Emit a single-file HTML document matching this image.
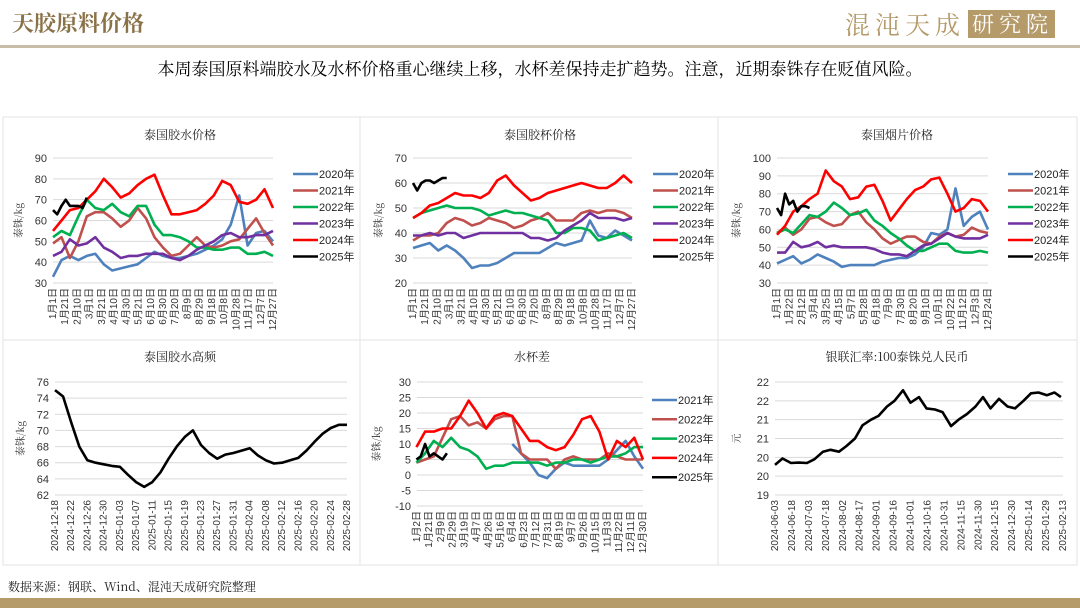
<!DOCTYPE html>
<html><head><meta charset="utf-8">
<style>
body{margin:0;background:#fff;}
svg{display:block;font-family:"Liberation Sans","Noto Sans CJK SC",sans-serif;}
.cjk{font-family:"Noto Serif CJK SC","Noto Sans CJK SC",serif;}
.sans{font-family:"Liberation Sans","Noto Sans CJK SC",sans-serif;}
</style></head>
<body>
<svg id="s" width="1080" height="608" viewBox="0 0 1080 608" xmlns="http://www.w3.org/2000/svg">
<rect width="1080" height="608" fill="#fff"/>
<text x="12" y="31" font-size="22" fill="#8a7248" class="cjk" font-weight="bold">天胶原料价格</text>
<g>
<text x="845" y="34" font-size="25" fill="#b59a6a" class="cjk" letter-spacing="5">混沌天成</text>
<rect x="968" y="10" width="87" height="28" fill="#b59a6a"/>
<text x="972" y="32" font-size="22" fill="#fff" class="cjk" letter-spacing="5">研究院</text>
</g>
<rect x="0" y="45" width="1080" height="3" fill="#c9bda8"/>
<text x="540" y="75" font-size="17" text-anchor="middle" fill="#000" class="cjk">本周泰国原料端胶水及水杯价格重心继续上移，水杯差保持走扩趋势。注意，近期泰铢存在贬值风险。</text>
<rect x="3" y="117" width="1074" height="448" fill="none" stroke="#e3e3e3"/>
<line x1="360" y1="117" x2="360" y2="565" stroke="#e3e3e3"/>
<line x1="718" y1="117" x2="718" y2="565" stroke="#e3e3e3"/>
<line x1="3" y1="340" x2="1077" y2="340" stroke="#e3e3e3"/>
<text x="8" y="591" font-size="12" fill="#222" class="cjk">数据来源：钢联、Wind、混沌天成研究院整理</text>
<rect x="0" y="598" width="1080" height="10" fill="#b59a6a"/>
<g id="charts"></g>
</svg>
<script>
// ---------- data ----------
const seasonNames=["2020年","2021年","2022年","2023年","2024年","2025年"];
const ticks1=["1月1日","1月21日","2月10日","3月1日","3月21日","4月10日","4月30日","5月21日","6月10日","6月30日","7月20日","8月9日","8月29日","9月18日","10月8日","10月28日","11月17日","12月7日","12月27日"];
const ticks3=["1月1日","1月22日","2月12日","3月4日","3月25日","4月15日","5月7日","5月28日","6月18日","7月9日","7月30日","8月20日","9月10日","10月1日","10月22日","11月12日","12月3日","12月24日"];
const ticks5=["1月2日","1月21日","2月9日","2月29日","3月19日","4月7日","4月26日","5月16日","6月4日","6月23日","7月12日","7月31日","8月19日","9月7日","9月26日","10月15日","11月3日","11月22日","12月11日","12月30日"];
const latex2020=[33,41,43,41,43,44,39,36,37,38,39,42,45,43,42,42,43,44,46,48,51,58,72,48,54,55,50];
const latex2021=[49,52,42,50,62,64,64,61,57,60,66,61,52,47,43,44,48,52,48,47,48,50,51,56,61,54,48];
const latex2022=[52,55,53,62,70,66,65,68,64,62,67,67,58,53,53,52,50,47,47,46,46,47,47,44,44,45,43];
const latex2023=[43,45,51,48,49,52,47,45,42,43,43,44,44,44,42,41,43,46,48,50,53,54,52,52,53,53,55];
const latex2024=[55,60,65,66,70,74,80,76,71,73,77,80,82,72,63,63,64,65,68,72,79,77,69,68,70,75,66];
const latex2025=[65,63,67,70,67,67,67,66,71];
const cup2020=[34,35,36,33,35,33,30,26,27,27,28,30,32,32,32,32,34,36,35,36,37,45,39,38,41,39,37];
const cup2021=[37,39,39,40,44,46,45,43,44,46,45,44,42,43,45,46,48,45,45,45,48,49,48,49,49,48,46];
const cup2022=[46,48,49,50,51,50,50,50,49,47,48,49,48,48,47,46,45,40,40,42,42,41,37,38,39,40,38];
const cup2023=[39,39,40,39,40,40,38,39,40,40,40,40,40,40,38,38,37,38,41,43,45,48,46,46,46,45,46];
const cup2024=[46,48,51,52,54,56,55,55,54,56,61,63,59,56,53,54,56,57,58,59,60,59,58,58,60,63,60];
const cup2025=[60,57,60,61,61,60,61,62,62];
const rss2020=[41,43,45,41,43,46,44,42,39,40,40,40,40,42,43,44,44,46,50,58,57,60,83,62,67,70,60];
const rss2021=[58,61,57,60,66,67,64,62,63,68,70,64,60,55,52,54,56,56,53,52,56,58,56,57,61,59,58];
const rss2022=[58,60,58,63,68,67,70,75,72,68,69,71,65,62,58,55,51,48,48,50,52,52,48,47,47,48,47];
const rss2023=[47,47,53,50,51,53,50,51,50,50,50,50,49,47,46,46,45,48,51,52,55,58,56,55,55,55,57];
const rss2024=[57,62,70,73,77,80,93,87,84,77,78,84,85,76,65,71,77,82,84,88,89,80,70,72,77,76,70];
const rss2025=[72,68,80,74,76,70,73,73,72];
const hfTicks=["2024-12-18","2024-12-22","2024-12-26","2024-12-30","2025-01-03","2025-01-07","2025-01-11","2025-01-15","2025-01-19","2025-01-23","2025-01-27","2025-01-31","2025-02-04","2025-02-08","2025-02-12","2025-02-16","2025-02-20","2025-02-24","2025-02-28"];
const hfValues=[75,74.2,71,68,66.3,66,65.8,65.6,65.5,64.5,63.6,63,63.6,64.8,66.5,68,69.2,70,68.2,67.2,66.5,67,67.2,67.5,67.8,66.9,66.3,65.9,66,66.3,66.6,67.5,68.6,69.6,70.3,70.7,70.7];
const spreadNames=["2021年","2022年","2023年","2024年","2025年"];
const spread2021=[10,7,4,0,-1,2,4,3,3,3,3,5,8,11,6,2];
const spread2022=[4,5,6,12,18,19,16,17,15,18,19,19,7,5,5,5,2,5,6,5,5,5,7,6,5,5,5];
const spread2023=[4,7,11,9,12,9,8,6,2,3,3,4,4,4,4,3,4,4,5,5,4,5,6,6,7,9,9];
const spread2024=[9,14,14,15,15,19,24,20,15,19,20,19,15,11,11,9,8,9,13,18,19,14,5,11,9,12,5];
const spread2025=[5,6,10,6,7,6,5,7];
const fxTicks=["2024-06-03","2024-06-18","2024-07-03","2024-07-18","2024-08-02","2024-08-17","2024-09-01","2024-09-16","2024-10-01","2024-10-16","2024-10-31","2024-11-15","2024-11-30","2024-12-15","2024-12-30","2025-01-14","2025-01-29","2025-02-13"];
const fxDays=[0,7,15,22,30,37,45,52,60,67,75,82,90,97,105,112,120,127,135,142,150,157,165,172,180,188,195,202,210,218,225,233,240,247,255,262,268];
const fxValues=[19.8,19.97,19.85,19.86,19.85,19.95,20.15,20.2,20.15,20.3,20.5,20.85,21.0,21.1,21.35,21.5,21.78,21.45,21.6,21.3,21.27,21.2,20.83,21.0,21.15,21.35,21.6,21.3,21.55,21.35,21.3,21.5,21.7,21.72,21.65,21.72,21.6];

const COLORS=["#4f81bd","#c0504d","#00b050","#7030a0","#ff0000","#000000"];
const NS="http://www.w3.org/2000/svg";
const root=document.getElementById('charts');
function el(tag,attrs,parent,txt){const e=document.createElementNS(NS,tag);for(const k in attrs)e.setAttribute(k,attrs[k]);if(txt!==undefined)e.textContent=txt;(parent||root).appendChild(e);return e;}

function frame(cfg){
  const g=el('g',{});
  
  
  const t=el('text',{x:cfg.cx,y:cfg.ty,'font-size':12,'text-anchor':'middle',fill:'#222',class:'cjk'},g,cfg.title);
  
  
  const y=v=>cfg.y1-(v-cfg.vmin)/(cfg.vmax-cfg.vmin)*(cfg.y1-cfg.y0);
  for(let v=cfg.vmin;v<=cfg.vmax+1e-9;v+=cfg.vstep){
    const gl=el('line',{x1:cfg.x0,x2:cfg.x1,y1:y(v),y2:y(v),stroke:'#d9d9d9','stroke-width':1},g);
    
    
    const lb=el('text',{x:cfg.x0-6,y:y(v)+4,'font-size':11,'text-anchor':'end',fill:'#333'},g,cfg.fmt?cfg.fmt(v):v);
    
    
  }
  const yt=el('text',{x:cfg.ylx,y:(cfg.y0+cfg.y1)/2,'font-size':10,'text-anchor':'middle',fill:'#333',class:'cjk',transform:`rotate(-90 ${cfg.ylx} ${(cfg.y0+cfg.y1)/2})`},g,cfg.ylabel);
  
  
  const n=cfg.ticks.length;
  cfg.ticks.forEach((tk,i)=>{
    const x=cfg.x0+(cfg.x1-cfg.x0)*i/(n-1)+3;
    const tl=el('text',{x:x,y:cfg.y1+5,'font-size':cfg.tfs||10,'text-anchor':'end',fill:'#333',class:'sans',transform:`rotate(-90 ${x} ${cfg.y1+5})`},g,tk);
    
    
  });
  return {g,y};
}
function line(g,pts,color,name){
  const p=el('polyline',{points:pts.map(p=>p[0].toFixed(1)+','+p[1].toFixed(1)).join(' '),fill:'none',stroke:color,'stroke-width':2.6,'stroke-linejoin':'round'},g);
  
  
}
function legend(g,names,colors,lx,ly,step){
  names.forEach((nm,i)=>{
    const yy=ly+i*step;
    const lg=el('g',{},g);
    
    
    el('line',{x1:lx,x2:lx+25,y1:yy,y2:yy,stroke:colors[i],'stroke-width':2.5},lg);
    el('text',{x:lx+26,y:yy+4,'font-size':11,fill:'#222',class:'sans'},lg,nm);
  });
}
function seasonal(cfg,series,steps,starts){
  const {g,y}=frame(cfg);
  const x=d=>cfg.x0+(d-cfg.d0)/(cfg.d1-cfg.d0)*(cfg.x1-cfg.x0);
  series.forEach((vals,i)=>{
    line(g,vals.map((v,j)=>[x(starts[i]+j*steps[i]),y(v)]),cfg.colors[i],'series-'+cfg.names[i]);
  });
  legend(g,cfg.names,cfg.colors,cfg.lx,cfg.ly,cfg.lstep);
}
const S=[14,14,14,14,14,7], Z=[0,0,0,0,0,0];
seasonal({id:'latex-price-chart',title:'泰国胶水价格',cx:180,ty:139,x0:53,x1:273,y0:158,y1:283,vmin:30,vmax:90,vstep:10,ylabel:'泰铢/kg',ylx:22,ticks:ticks1,d0:0,d1:364,names:seasonNames,colors:COLORS,lx:293,ly:174,lstep:16.5},
  [latex2020,latex2021,latex2022,latex2023,latex2024,latex2025],S,Z);
seasonal({id:'cup-lump-price-chart',title:'泰国胶杯价格',cx:540,ty:139,x0:413,x1:632,y0:158,y1:283,vmin:20,vmax:70,vstep:10,ylabel:'泰铢/kg',ylx:382,ticks:ticks1,d0:0,d1:364,names:seasonNames,colors:COLORS,lx:653,ly:174,lstep:16.5},
  [cup2020,cup2021,cup2022,cup2023,cup2024,cup2025],S,Z);
seasonal({id:'smoked-sheet-price-chart',title:'泰国烟片价格',cx:897,ty:139,x0:777,x1:988,y0:158,y1:283,vmin:30,vmax:100,vstep:10,ylabel:'泰铢/kg',ylx:740,ticks:ticks3,d0:0,d1:364,names:seasonNames,colors:COLORS,lx:1008,ly:174,lstep:16.5},
  [rss2020,rss2021,rss2022,rss2023,rss2024,rss2025],S,Z);
seasonal({id:'cup-latex-spread-chart',title:'水杯差',cx:532,ty:361,x0:417,x1:643,y0:382,y1:506,vmin:-10,vmax:30,vstep:5,ylabel:'泰铢/kg',ylx:380,ticks:ticks5,d0:1,d1:364,names:spreadNames,colors:["#4f81bd","#c0504d","#00b050","#ff0000","#000000"],lx:652,ly:400,lstep:19.3},
  [spread2021,spread2022,spread2023,spread2024,spread2025],[14,14,14,14,7],[154,0,0,0,0]);
(function(){
  const cfg={id:'latex-high-frequency-chart',title:'泰国胶水高频',cx:180,ty:361,x0:55,x1:347,y0:382,y1:495,vmin:62,vmax:76,vstep:2,ylabel:'泰铢/kg',ylx:24,ticks:hfTicks,tfs:10};
  const {g,y}=frame(cfg);
  const x=d=>cfg.x0+d/72*(cfg.x1-cfg.x0);
  line(g,hfValues.map((v,j)=>[x(j*2),y(v)]),'#000','series-latex-hf');
})();
(function(){
  const cfg={id:'fx-rate-chart',title:'银联汇率:100泰铢兑人民币',cx:897,ty:361,x0:775,x1:1063,y0:382,y1:495,vmin:19,vmax:22,vstep:0.5,ylabel:'元',ylx:740,ticks:fxTicks,tfs:10,fmt:v=>Math.round(v)};
  const {g,y}=frame(cfg);
  const x=d=>cfg.x0+d/(255*18/17)*(cfg.x1-cfg.x0);
  line(g,fxDays.map((d,j)=>[x(d),y(fxValues[j])]),'#000','series-fx-rate');
})();
</script>
</body></html>
